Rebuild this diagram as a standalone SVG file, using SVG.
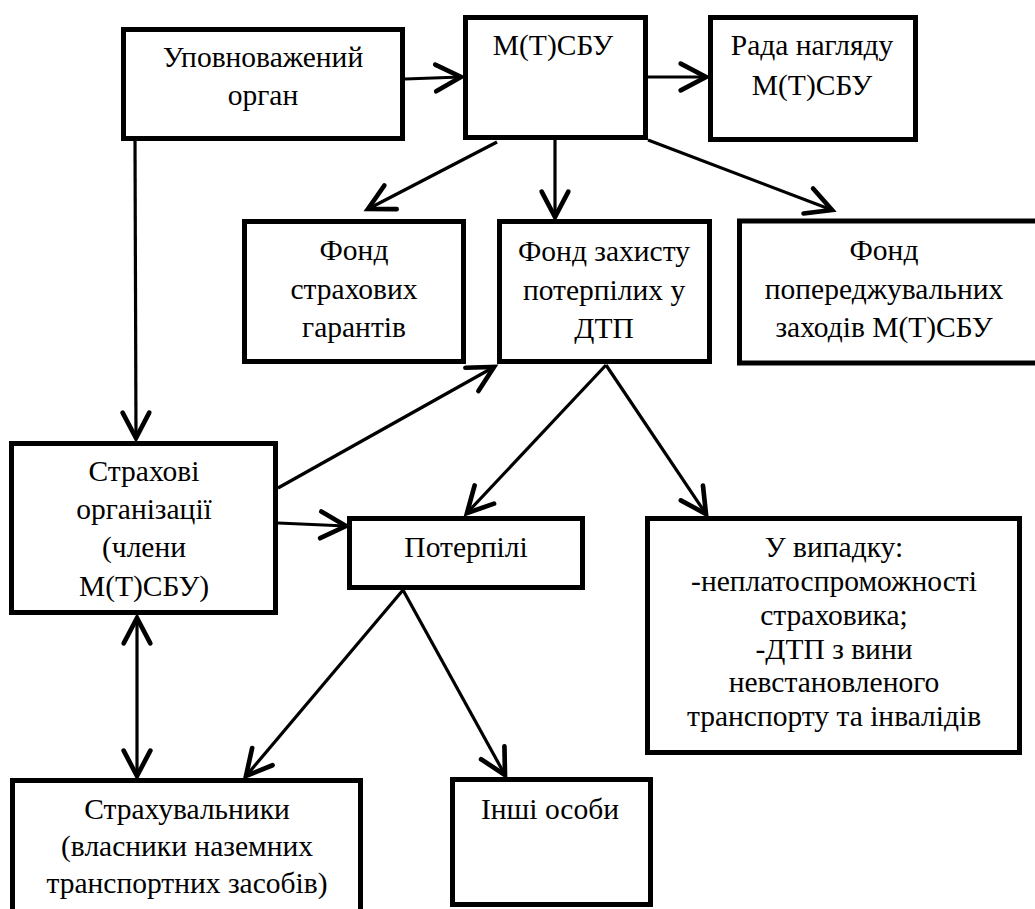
<svg xmlns="http://www.w3.org/2000/svg" width="1035" height="909" viewBox="0 0 1035 909">
<style>
.box{fill:#fff;stroke:#000;stroke-width:5}
.t{font-family:'Liberation Serif','Times New Roman',serif;font-size:29.5px;fill:#000;text-anchor:middle}
.c{stroke:#000;stroke-width:3.2;fill:none}
</style>
<defs>
<marker id="ah" markerUnits="userSpaceOnUse" markerWidth="40" markerHeight="40" refX="0" refY="0" viewBox="-25 -15 30 30" orient="auto-start-reverse" overflow="visible">
<path d="M-19,-10 L0,0 L-19,10" fill="none" stroke="#000" stroke-width="3.5" stroke-linecap="round" stroke-linejoin="miter"/>
</marker>
</defs>
<rect width="1035" height="909" fill="#fff"/>
<g id="connectors">
<line class="c" x1="405" y1="79" x2="461" y2="77" marker-end="url(#ah)"/>
<line class="c" x1="648" y1="77" x2="706" y2="77" marker-end="url(#ah)"/>
<line class="c" x1="497" y1="142" x2="368" y2="209" marker-end="url(#ah)"/>
<line class="c" x1="555" y1="140" x2="555" y2="217" marker-end="url(#ah)"/>
<line class="c" x1="648" y1="140" x2="832" y2="210" marker-end="url(#ah)"/>
<line class="c" x1="135" y1="141" x2="136" y2="438" marker-end="url(#ah)"/>
<line class="c" x1="278" y1="488" x2="494" y2="367" marker-end="url(#ah)"/>
<line class="c" x1="278" y1="523" x2="346" y2="526" marker-end="url(#ah)"/>
<line class="c" x1="606" y1="365" x2="467" y2="513" marker-end="url(#ah)"/>
<line class="c" x1="606" y1="365" x2="706" y2="514" marker-end="url(#ah)"/>
<line class="c" x1="137" y1="618" x2="137" y2="776" marker-start="url(#ah)" marker-end="url(#ah)"/>
<line class="c" x1="403" y1="590" x2="246" y2="776" marker-end="url(#ah)"/>
<line class="c" x1="403" y1="590" x2="505" y2="775" marker-end="url(#ah)"/>
</g>
<g id="n-upovn"><rect class="box" x="123.5" y="29.5" width="279" height="109"/><text class="t" x="263" y="67">Уповноважений</text><text class="t" x="263" y="105">орган</text></g>
<g id="n-mtsbu"><rect class="box" x="465.5" y="17.5" width="180" height="120"/><text class="t" x="553" y="55">М(Т)СБУ</text></g>
<g id="n-rada"><rect class="box" x="710.5" y="17.5" width="205" height="122"/><text class="t" x="812" y="55">Рада нагляду</text><text class="t" x="812" y="95">М(Т)СБУ</text></g>
<g id="n-fond-gar"><rect class="box" x="244.5" y="221.5" width="219" height="140"/><text class="t" x="354" y="260">Фонд</text><text class="t" x="354" y="299">страхових</text><text class="t" x="354" y="337">гарантів</text></g>
<g id="n-fond-zah"><rect class="box" x="499.5" y="221.5" width="210" height="140"/><text class="t" x="604" y="261">Фонд захисту</text><text class="t" x="604" y="300">потерпілих у</text><text class="t" x="604" y="338">ДТП</text></g>
<g id="n-fond-pop"><rect class="box" x="739.5" y="221" width="300" height="142"/><text class="t" x="884" y="260">Фонд</text><text class="t" x="884" y="299">попереджувальних</text><text class="t" x="884" y="337">заходів М(Т)СБУ</text></g>
<g id="n-strah-org"><rect class="box" x="11.5" y="443.5" width="264" height="169"/><text class="t" x="144" y="481">Страхові</text><text class="t" x="144" y="519">організації</text><text class="t" x="144" y="557">(члени</text><text class="t" x="144" y="596">М(Т)СБУ)</text></g>
<g id="n-poterp"><rect class="box" x="349.5" y="518.5" width="233" height="69"/><text class="t" x="466" y="557">Потерпілі</text></g>
<g id="n-vypadok"><rect class="box" x="647.5" y="518.5" width="372" height="234"/><text class="t" x="834" y="557">У випадку:</text><text class="t" x="834" y="591">-неплатоспроможності</text><text class="t" x="834" y="625">страховика;</text><text class="t" x="834" y="659">-ДТП з вини</text><text class="t" x="834" y="692">невстановленого</text><text class="t" x="834" y="726">транспорту та інвалідів</text></g>
<g id="n-strahuv"><rect class="box" x="12.5" y="780.5" width="348" height="140"/><text class="t" x="187" y="819">Страхувальники</text><text class="t" x="187" y="856">(власники наземних</text><text class="t" x="187" y="893">транспортних засобів)</text></g>
<g id="n-inshi"><rect class="box" x="452.5" y="779.5" width="198" height="125"/><text class="t" x="550" y="819">Інші особи</text></g>
</svg>
